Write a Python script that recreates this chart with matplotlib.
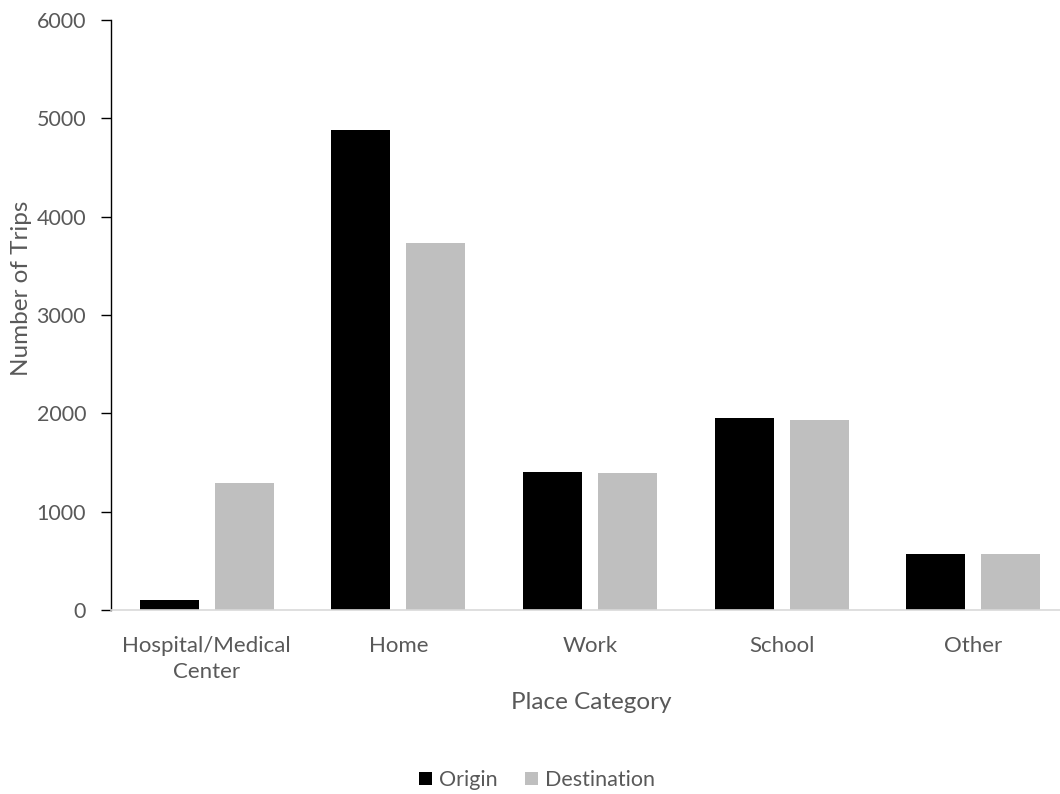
import matplotlib
matplotlib.use("Agg")
import matplotlib.pyplot as plt
import numpy as np

categories = ["Hospital/Medical\nCenter", "Home", "Work", "School", "Other"]
origin = [105, 4880, 1400, 1950, 570]
destination = [1290, 3730, 1395, 1930, 565]
y_ticks = [0, 1000, 2000, 3000, 4000, 5000, 6000]

plt.rcParams["font.family"] = ["Lato", "DejaVu Sans"]
text_color = "#595959"

W, H = 1060, 794
fig = plt.figure(figsize=(W / 100, H / 100), dpi=100)
ax = fig.add_axes([111 / W, 1 - 610 / H, 958 / W, 590 / H])

x = np.arange(len(categories))
bw = 0.308
off = 0.196
ax.bar(x - off, origin, bw, color="black", label="Origin", zorder=2)
ax.bar(x + off, destination, bw, color="#bfbfbf", label="Destination", zorder=2)

ax.set_xlim(-0.5, len(categories) - 0.5)
ax.set_ylim(0, 6000)
ax.set_yticks(y_ticks)
ax.set_xticks(x)
ax.set_xticklabels(categories, fontsize=16, color=text_color, linespacing=1.35)
ax.tick_params(axis="y", labelsize=15.5, labelcolor=text_color, length=7,
               width=1, color="black", direction="out", pad=11)
ax.tick_params(axis="x", length=0, pad=19)

for s in ("top", "right"):
    ax.spines[s].set_visible(False)
ax.spines["left"].set_color("black")
ax.spines["left"].set_linewidth(1)
ax.spines["bottom"].set_color("#d9d9d9")
ax.spines["bottom"].set_linewidth(1.2)

fig.text(22 / W, 1 - 288 / H, "Number of Trips", rotation=90, ha="center",
         va="center", fontsize=17.5, color=text_color)
fig.text(591 / W, 1 - 709 / H, "Place Category", ha="center", va="baseline",
         fontsize=17.5, color=text_color)

handles, labels = ax.get_legend_handles_labels()
fig.legend(handles, labels, loc="center", bbox_to_anchor=(537 / W, 1 - 780 / H),
           ncol=2, frameon=False, fontsize=15.5, labelcolor=text_color,
           handlelength=0.6, handleheight=0.6, handletextpad=0.3,
           columnspacing=1.3)

fig.savefig("out.png", dpi=100)
